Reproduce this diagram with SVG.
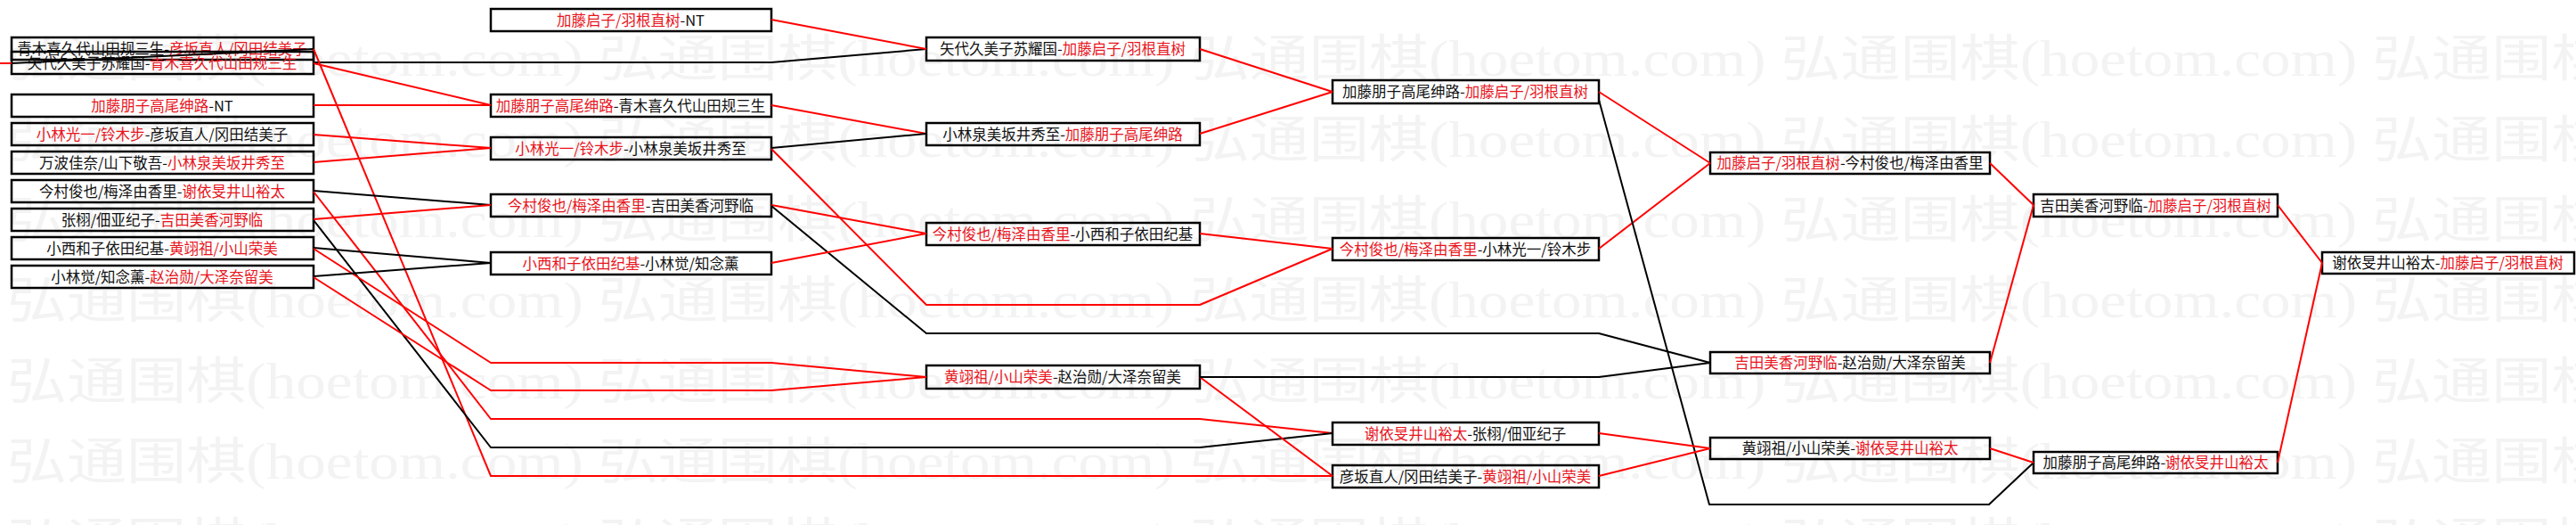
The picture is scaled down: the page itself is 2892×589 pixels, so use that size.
<svg xmlns="http://www.w3.org/2000/svg" width="2892" height="589" viewBox="0 0 2892 589">
<style>
.bg{fill:#ffffff}
.wm{font-family:"Liberation Serif","Noto Sans CJK SC",serif;font-size:56px;fill:#f3f3f3}
.box{fill:none;stroke:#000;stroke-width:2.5}
.t{font-family:"Noto Sans CJK SC","Noto Sans CJK JP",sans-serif;font-size:16.5px;text-anchor:middle;fill:#111}
.r{fill:#e8141c}
.cr{fill:none;stroke:#f00;stroke-width:2;stroke-linejoin:round}
.ck{fill:none;stroke:#000;stroke-width:2;stroke-linejoin:round}
</style>
<rect class="bg" x="0" y="0" width="2892" height="589"/>
<g id="watermark">
<text class="wm" x="-656" y="85" textLength="3966" lengthAdjust="spacingAndGlyphs">弘通围棋(hoetom.com) 弘通围棋(hoetom.com) 弘通围棋(hoetom.com) 弘通围棋(hoetom.com) 弘通围棋(hoetom.com) 弘通围棋(hoetom.com)</text>
<text class="wm" x="-656" y="176" textLength="3966" lengthAdjust="spacingAndGlyphs">弘通围棋(hoetom.com) 弘通围棋(hoetom.com) 弘通围棋(hoetom.com) 弘通围棋(hoetom.com) 弘通围棋(hoetom.com) 弘通围棋(hoetom.com)</text>
<text class="wm" x="-656" y="266" textLength="3966" lengthAdjust="spacingAndGlyphs">弘通围棋(hoetom.com) 弘通围棋(hoetom.com) 弘通围棋(hoetom.com) 弘通围棋(hoetom.com) 弘通围棋(hoetom.com) 弘通围棋(hoetom.com)</text>
<text class="wm" x="-656" y="356" textLength="3966" lengthAdjust="spacingAndGlyphs">弘通围棋(hoetom.com) 弘通围棋(hoetom.com) 弘通围棋(hoetom.com) 弘通围棋(hoetom.com) 弘通围棋(hoetom.com) 弘通围棋(hoetom.com)</text>
<text class="wm" x="-656" y="447" textLength="3966" lengthAdjust="spacingAndGlyphs">弘通围棋(hoetom.com) 弘通围棋(hoetom.com) 弘通围棋(hoetom.com) 弘通围棋(hoetom.com) 弘通围棋(hoetom.com) 弘通围棋(hoetom.com)</text>
<text class="wm" x="-656" y="537" textLength="3966" lengthAdjust="spacingAndGlyphs">弘通围棋(hoetom.com) 弘通围棋(hoetom.com) 弘通围棋(hoetom.com) 弘通围棋(hoetom.com) 弘通围棋(hoetom.com) 弘通围棋(hoetom.com)</text>
<text class="wm" x="-656" y="627" textLength="3966" lengthAdjust="spacingAndGlyphs">弘通围棋(hoetom.com) 弘通围棋(hoetom.com) 弘通围棋(hoetom.com) 弘通围棋(hoetom.com) 弘通围棋(hoetom.com) 弘通围棋(hoetom.com)</text>
</g>

<!-- Column 1 -->
<g id="n1a"><rect class="box" x="13" y="42" width="339" height="25"/><text class="t" x="182" y="60.5">青木喜久代山田规三生-<tspan class="r">彦坂直人/冈田结美子</tspan></text></g>
<g id="n1b"><rect class="box" x="13" y="58" width="339" height="25"/><text class="t" x="182" y="76.5">矢代久美子苏耀国-<tspan class="r">青木喜久代山田规三生</tspan></text></g>
<g id="n1c"><rect class="box" x="13" y="106" width="339" height="25"/><text class="t" x="182" y="124.5"><tspan class="r">加藤朋子高尾绅路</tspan>-NT</text></g>
<g id="n1d"><rect class="box" x="13" y="138" width="339" height="25"/><text class="t" x="182" y="156.5"><tspan class="r">小林光一/铃木步</tspan>-彦坂直人/冈田结美子</text></g>
<g id="n1e"><rect class="box" x="13" y="170" width="339" height="25"/><text class="t" x="182" y="188.5">万波佳奈/山下敬吾-<tspan class="r">小林泉美坂井秀至</tspan></text></g>
<g id="n1f"><rect class="box" x="13" y="202" width="339" height="25"/><text class="t" x="182" y="220.5">今村俊也/梅泽由香里-<tspan class="r">谢依旻井山裕太</tspan></text></g>
<g id="n1g"><rect class="box" x="13" y="234" width="339" height="25"/><text class="t" x="182" y="252.5">张栩/佃亚纪子-<tspan class="r">吉田美香河野临</tspan></text></g>
<g id="n1h"><rect class="box" x="13" y="266" width="339" height="25"/><text class="t" x="182" y="284.5">小西和子依田纪基-<tspan class="r">黄翊祖/小山荣美</tspan></text></g>
<g id="n1i"><rect class="box" x="13" y="298" width="339" height="25"/><text class="t" x="182" y="316.5">小林觉/知念薰-<tspan class="r">赵治勋/大泽奈留美</tspan></text></g>

<!-- Column 2 -->
<g id="n2a"><rect class="box" x="551" y="10" width="315" height="25"/><text class="t" x="708" y="28.5"><tspan class="r">加藤启子/羽根直树</tspan>-NT</text></g>
<g id="n2b"><rect class="box" x="551" y="106" width="315" height="25"/><text class="t" x="708" y="124.5"><tspan class="r">加藤朋子高尾绅路</tspan>-青木喜久代山田规三生</text></g>
<g id="n2c"><rect class="box" x="551" y="154" width="315" height="25"/><text class="t" x="708" y="172.5"><tspan class="r">小林光一/铃木步</tspan>-小林泉美坂井秀至</text></g>
<g id="n2d"><rect class="box" x="551" y="218" width="315" height="25"/><text class="t" x="708" y="236.5"><tspan class="r">今村俊也/梅泽由香里</tspan>-吉田美香河野临</text></g>
<g id="n2e"><rect class="box" x="551" y="283" width="315" height="25"/><text class="t" x="708" y="301.5"><tspan class="r">小西和子依田纪基</tspan>-小林觉/知念薰</text></g>

<!-- Column 3 -->
<g id="n3a"><rect class="box" x="1040" y="42" width="307" height="26"/><text class="t" x="1193" y="61">矢代久美子苏耀国-<tspan class="r">加藤启子/羽根直树</tspan></text></g>
<g id="n3b"><rect class="box" x="1040" y="138" width="307" height="25"/><text class="t" x="1193" y="156.5">小林泉美坂井秀至-<tspan class="r">加藤朋子高尾绅路</tspan></text></g>
<g id="n3c"><rect class="box" x="1040" y="250" width="307" height="25"/><text class="t" x="1193" y="268.5"><tspan class="r">今村俊也/梅泽由香里</tspan>-小西和子依田纪基</text></g>
<g id="n3d"><rect class="box" x="1040" y="410" width="307" height="26"/><text class="t" x="1193" y="429"><tspan class="r">黄翊祖/小山荣美</tspan>-赵治勋/大泽奈留美</text></g>

<!-- Column 4 -->
<g id="n4a"><rect class="box" x="1496" y="90" width="299" height="26"/><text class="t" x="1645" y="109">加藤朋子高尾绅路-<tspan class="r">加藤启子/羽根直树</tspan></text></g>
<g id="n4b"><rect class="box" x="1496" y="267" width="299" height="25"/><text class="t" x="1645" y="285.5"><tspan class="r">今村俊也/梅泽由香里</tspan>-小林光一/铃木步</text></g>
<g id="n4c"><rect class="box" x="1496" y="474" width="299" height="25"/><text class="t" x="1645" y="492.5"><tspan class="r">谢依旻井山裕太</tspan>-张栩/佃亚纪子</text></g>
<g id="n4d"><rect class="box" x="1496" y="522" width="299" height="25"/><text class="t" x="1645" y="540.5">彦坂直人/冈田结美子-<tspan class="r">黄翊祖/小山荣美</tspan></text></g>

<!-- Column 5 -->
<g id="n5a"><rect class="box" x="1920" y="171" width="314" height="24"/><text class="t" x="2077" y="189"><tspan class="r">加藤启子/羽根直树</tspan>-今村俊也/梅泽由香里</text></g>
<g id="n5b"><rect class="box" x="1920" y="395" width="314" height="24"/><text class="t" x="2077" y="413"><tspan class="r">吉田美香河野临</tspan>-赵治勋/大泽奈留美</text></g>
<g id="n5c"><rect class="box" x="1920" y="491" width="314" height="24"/><text class="t" x="2077" y="509">黄翊祖/小山荣美-<tspan class="r">谢依旻井山裕太</tspan></text></g>

<!-- Column 6 -->
<g id="n6a"><rect class="box" x="2283" y="218" width="274" height="25"/><text class="t" x="2420" y="236.5">吉田美香河野临-<tspan class="r">加藤启子/羽根直树</tspan></text></g>
<g id="n6b"><rect class="box" x="2283" y="507" width="274" height="24"/><text class="t" x="2420" y="525">加藤朋子高尾绅路-<tspan class="r">谢依旻井山裕太</tspan></text></g>

<!-- Column 7 -->
<g id="n7a"><rect class="box" x="2607" y="283" width="283" height="24"/><text class="t" x="2748" y="301">谢依旻井山裕太-<tspan class="r">加藤启子/羽根直树</tspan></text></g>

<g id="connectors">
<polyline class="ck" points="352,55 13,71"/>
<polyline class="cr" points="0,71 13,71"/>
<polyline class="ck" points="352,70 866,70 1040,55"/>
<polyline class="cr" points="352,71 551,118"/>
<polyline class="cr" points="352,118 551,118"/>
<polyline class="cr" points="352,55 551,534 1496,534"/>
<polyline class="cr" points="352,151 551,166"/>
<polyline class="cr" points="352,182 551,166"/>
<polyline class="ck" points="352,214 551,230"/>
<polyline class="cr" points="352,215 551,470 1347,470 1496,486"/>
<polyline class="cr" points="352,246 551,230"/>
<polyline class="ck" points="352,247 551,502 1347,502 1496,486"/>
<polyline class="ck" points="352,278 551,295"/>
<polyline class="cr" points="352,279 551,407 866,407 1040,423"/>
<polyline class="ck" points="352,310 551,295"/>
<polyline class="cr" points="352,311 551,438 866,438 1040,423"/>
<polyline class="cr" points="866,22 1040,55"/>
<polyline class="cr" points="866,118 1040,150"/>
<polyline class="ck" points="866,166 1040,150"/>
<polyline class="cr" points="866,167 1040,342 1347,342 1496,279"/>
<polyline class="cr" points="866,230 1040,262"/>
<polyline class="ck" points="866,231 1040,374 1795,374 1920,407"/>
<polyline class="cr" points="866,295 1040,262"/>
<polyline class="cr" points="1347,55 1496,103"/>
<polyline class="cr" points="1347,150 1496,103"/>
<polyline class="cr" points="1347,262 1496,279"/>
<polyline class="cr" points="1347,423 1496,534"/>
<polyline class="ck" points="1347,423 1795,423 1920,407"/>
<polyline class="cr" points="1795,103 1920,183"/>
<polyline class="cr" points="1795,279 1920,183"/>
<polyline class="ck" points="1795,112 1919,566 2233,566 2283,519"/>
<polyline class="cr" points="1795,486 1920,503"/>
<polyline class="cr" points="1795,534 1920,503"/>
<polyline class="cr" points="2234,183 2283,230"/>
<polyline class="cr" points="2234,407 2283,230"/>
<polyline class="cr" points="2234,503 2283,519"/>
<polyline class="cr" points="2557,230 2607,295"/>
<polyline class="cr" points="2557,519 2607,295"/>
</g>
</svg>
